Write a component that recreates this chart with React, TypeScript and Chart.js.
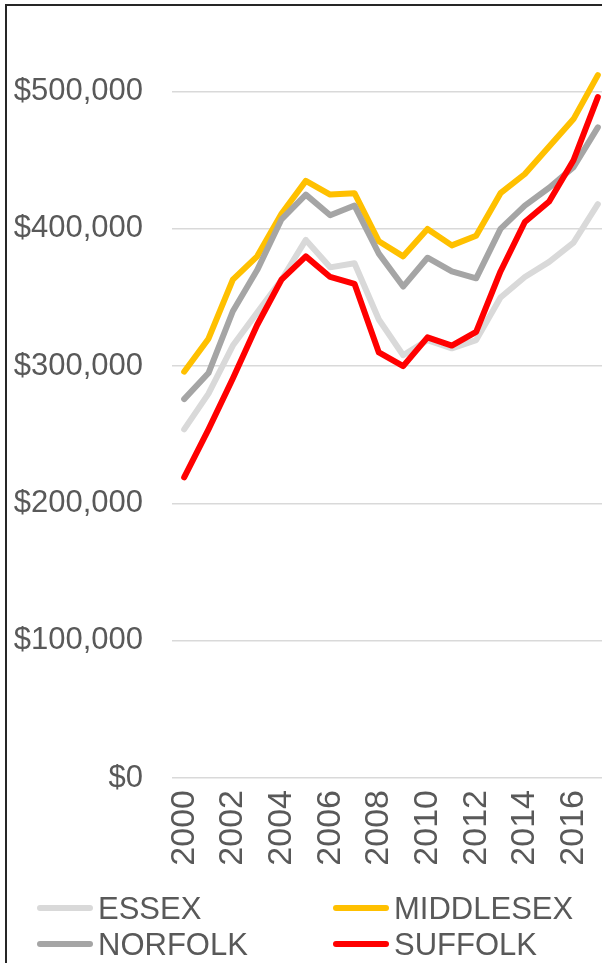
import React, { useEffect, useRef } from "react";
import { Chart, registerables } from "chart.js";

Chart.register(...registerables);

const years = ["2000","2001","2002","2003","2004","2005","2006","2007","2008","2009","2010","2011","2012","2013","2014","2015","2016","2017"];
const seriesNames = ["ESSEX", "MIDDLESEX", "NORFOLK", "SUFFOLK"];
const essex = [254000, 280000, 315000, 339000, 363000, 392000, 372000, 375000, 334000, 308000, 319000, 313000, 319000, 350000, 365000, 376000, 390000, 418000];
const middlesex = [296000, 320000, 363000, 380000, 411000, 435000, 425000, 426000, 391000, 380000, 400000, 388000, 395000, 426000, 440000, 460000, 480000, 512000];
const norfolk = [276000, 295000, 340000, 370000, 407000, 425000, 410000, 417000, 382000, 358000, 379000, 369000, 364000, 400000, 417000, 430000, 445000, 474000];
const suffolk = [219000, 254000, 291000, 330000, 363000, 380000, 365000, 360000, 310000, 300000, 321000, 315000, 325000, 369000, 405000, 420000, 450000, 496000];
const colors = ["#d9d9d9", "#ffc000", "#a5a5a5", "#ff0000"];
const yTickValues = [0, 100000, 200000, 300000, 400000, 500000];
const yMax = 550000;

const FONT = "'Liberation Sans', Arial, sans-serif";
const TEXT = "#595959";

const legendPlugin = {
  id: "gridLegend",
  afterDraw(chart: any) {
    const ctx = chart.ctx;
    const cols = [37, 333];
    const rows = [908, 944];
    const lineLen = 56;
    ctx.save();
    chart.data.datasets.forEach((ds: any, i: number) => {
      const x = cols[i % 2];
      const y = rows[Math.floor(i / 2)];
      ctx.strokeStyle = ds.borderColor;
      ctx.lineWidth = 6;
      ctx.lineCap = "round";
      ctx.beginPath();
      ctx.moveTo(x + 3, y);
      ctx.lineTo(x + lineLen - 3, y);
      ctx.stroke();
      ctx.fillStyle = TEXT;
      ctx.font = `31px ${FONT}`;
      ctx.textBaseline = "alphabetic";
      ctx.textAlign = "left";
      ctx.fillText(ds.label, x + lineLen + 5, y + 11);
    });
    ctx.restore();
  },
};

export default function App() {
  const ref = useRef<HTMLCanvasElement>(null);
  useEffect(() => {
    if (!ref.current) return;
    const all = [essex, middlesex, norfolk, suffolk];
    const chart = new Chart(ref.current, {
      type: "line",
      data: {
        labels: years,
        datasets: all.map((d, i) => ({
          label: seriesNames[i],
          data: d,
          borderColor: colors[i],
          backgroundColor: colors[i],
          borderWidth: 6,
          pointRadius: 0,
          borderCapStyle: "round" as const,
          borderJoinStyle: "round" as const,
          tension: 0,
          order: 4 - i,
        })),
      },
      options: {
        responsive: false,
        animation: false,
        layout: { padding: { top: 23, left: 0, right: 0, bottom: 0 } },
        plugins: { legend: { display: false }, tooltip: { enabled: false } },
        scales: {
          x: {
            offset: true,
            grid: { display: false, drawTicks: false },
            border: { display: false },
            ticks: {
              autoSkip: false,
              minRotation: 90,
              maxRotation: 90,
              padding: 12,
              color: TEXT,
              font: { family: FONT, size: 34 },
              callback: (_v: any, idx: number) => (idx % 2 === 0 ? years[idx] : ""),
            },
            afterFit: (s: any) => {
              s.height = 185;
              s.paddingLeft = 0;
              s.paddingRight = 0;
            },
          },
          y: {
            min: 0,
            max: yMax,
            grid: { color: "#d9d9d9", lineWidth: 1.5, drawTicks: false },
            border: { display: false },
            ticks: {
              autoSkip: false,
              padding: 29,
              color: TEXT,
              font: { family: FONT, size: 31 },
              callback: (v: any) => "$" + Number(v).toLocaleString("en-US"),
            },
            afterBuildTicks: (s: any) => {
              s.ticks = yTickValues.map((v) => ({ value: v }));
            },
            afterFit: (s: any) => {
              s.width = 172;
              s.paddingTop = 0;
              s.paddingBottom = 0;
            },
          },
        },
      },
      plugins: [legendPlugin],
    });
    return () => chart.destroy();
  }, []);

  return (
    <div style={{ position: "fixed", left: 0, top: 0, width: 602, height: 963, overflow: "hidden", background: "#fff" }}>
      <canvas ref={ref} width={610} height={963} style={{ position: "absolute", left: 0, top: 0, width: 610, height: 963 }} />
      <div style={{ position: "absolute", left: 5, top: 4, width: 800, height: 1200, borderLeft: "2px solid #262626", borderTop: "2px solid #262626", pointerEvents: "none" }} />
    </div>
  );
}
